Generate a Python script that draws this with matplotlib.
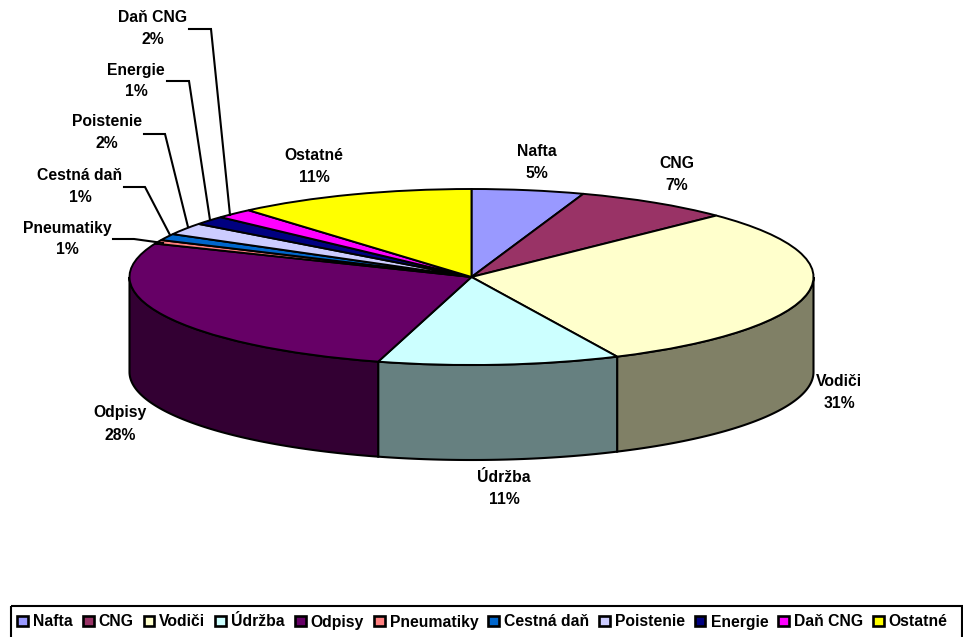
import matplotlib
matplotlib.use("Agg")
import matplotlib.pyplot as plt
from matplotlib.patches import Patch, Polygon, Rectangle
import numpy as np

plt.rcParams['font.family'] = ['Liberation Sans', 'DejaVu Sans']
plt.rcParams['font.weight'] = 'bold'

names = ['Nafta', 'CNG', 'Vodiči', 'Údržba', 'Odpisy', 'Pneumatiky',
         'Cestná daň', 'Poistenie', 'Energie', 'Daň CNG', 'Ostatné']
# shares
values = [5.3, 7.4, 30.3, 11.4, 26.8, 0.7, 1.2, 2.2, 1.6, 1.8, 11.3]
percent_labels = ['5%', '7%', '31%', '11%', '28%', '1%', '1%', '2%', '1%', '2%', '11%']
colors = ['#9999FF', '#993366', '#FFFFCC', '#CCFFFF', '#660066', '#FF8080',
          '#0066CC', '#CCCCFF', '#000080', '#FF00FF', '#FFFF00']
wall_colors = ['#4C4C80', '#4C1933', '#808066', '#668080', '#330033', '#804040',
               '#003366', '#666680', '#000040', '#800080', '#808000']

# label centre x, y of the first line, in pixels
label_x = [537, 677, 839, 504, 120, 67, 80, 107, 136, 153, 314]
label_y = [151, 164, 381, 478, 413, 228, 175, 122, 70, 17, 155]
# leader lines for the thin slices
leaders = {
    5: ([113, 134, 163], [239, 239, 243]),
    6: ([124, 145, 170], [187, 187, 235]),
    7: ([144, 165, 188], [134, 134, 227]),
    8: ([167, 189, 210], [81, 81, 220]),
    9: ([189, 211, 230], [29, 29, 215]),
}

W, H = 963, 637
CX, CY = 471.5, 277
RX, RY = 342, 88
DEPTH = 95

fig = plt.figure(figsize=(W / 100, H / 100), dpi=100, facecolor='white')

# pie axes: one data unit is one radius, so the circle turns into the ellipse
ax = fig.add_axes([0, 0, 1, 1])
ax.pie(values, colors=colors, startangle=90, counterclock=False, radius=1,
       wedgeprops={'edgecolor': 'black', 'linewidth': 1.4})
ax.set_aspect('auto')
ax.set_xlim(-CX / RX, (W - CX) / RX)
ax.set_ylim(-(H - CY) / RY, CY / RY)
ax.set_zorder(2)

# side wall goes behind the top face
edges = np.cumsum([0] + values) / sum(values) * 2 * np.pi
dy = DEPTH / RY
for i in range(len(values)):
    a0 = max(edges[i], np.pi / 2)
    a1 = min(edges[i + 1], 3 * np.pi / 2)
    if a1 <= a0:
        continue
    t = np.linspace(a0, a1, 80)
    x = np.sin(t)
    y = np.cos(t)
    pts = np.r_[np.c_[x, y], np.c_[x[::-1], y[::-1] - dy]]
    ax.add_patch(Polygon(pts, closed=True, facecolor=wall_colors[i],
                         edgecolor='black', linewidth=1.5, zorder=0))

# overlay in pixel coordinates for labels, leaders and legend box
ov = fig.add_axes([0, 0, 1, 1], facecolor='none')
ov.set_xlim(0, W)
ov.set_ylim(H, 0)
ov.axis('off')
ov.set_zorder(3)

for i, name in enumerate(names):
    ov.text(label_x[i], label_y[i], name, ha='center', va='center',
            fontsize=11.3, color='black')
    ov.text(label_x[i], label_y[i] + 22, percent_labels[i], ha='center',
            va='center', fontsize=11.3, color='black')

for xs, ys in leaders.values():
    ov.plot(xs, ys, color='black', lw=1.5, solid_joinstyle='miter')

handles = [Patch(facecolor=c, edgecolor='black', linewidth=1.9) for c in colors]
leg = ov.legend(handles, names, ncol=len(names), loc='center',
                bbox_to_anchor=(482.5 / W, 1 - 622 / H), frameon=False,
                fontsize=11.3, handlelength=0.68, handleheight=0.68,
                handletextpad=0.32, columnspacing=0.64, borderpad=0)
# box runs off the bottom of the picture
ov.add_patch(Rectangle((10.5, 606), 951.5, 40, facecolor='none',
                       edgecolor='black', linewidth=1.5, clip_on=True))

fig.savefig('out.png', dpi=100)
